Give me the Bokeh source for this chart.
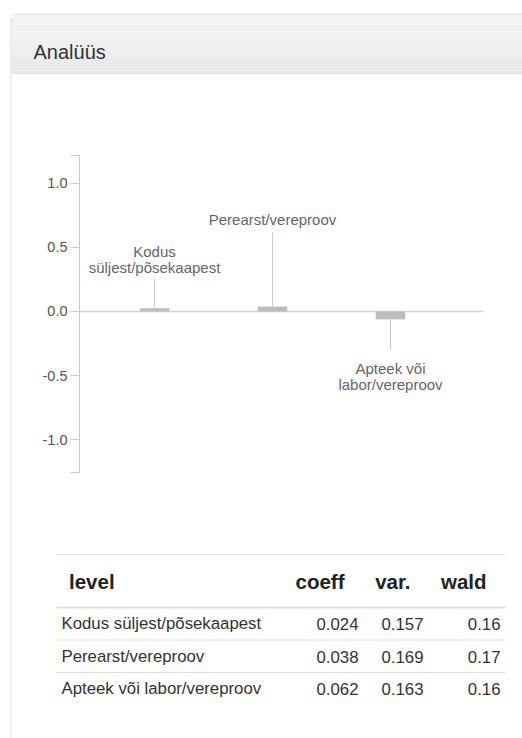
from bokeh.plotting import figure
from bokeh.layouts import column
from bokeh.models import Range1d, FixedTicker, CustomJSTickFormatter, ColumnDataSource
from bokeh.core.properties import value
from bokeh.embed import file_html
from bokeh.resources import INLINE
import numpy as np

# ---------------- data ----------------
title = "Analüüs"
levels = ["Kodus süljest/põsekaapest", "Perearst/vereproov", "Apteek või labor/vereproov"]
label_lines = [["Kodus", "süljest/põsekaapest"], ["Perearst/vereproov"], ["Apteek või", "labor/vereproov"]]
coeff = [0.024, 0.038, -0.062]          # signed values drawn as bars
coeff_txt = ["0.024", "0.038", "0.062"]  # as printed in table
var_txt = ["0.157", "0.169", "0.163"]
wald_txt = ["0.16", "0.17", "0.16"]
y_ticks = [-1.0, -0.5, 0.0, 0.5, 1.0]
table_cols = ["level", "coeff", "var."," wald"]
table_cols = ["level", "coeff", "var.", "wald"]

# ---------------- layout constants ----------------
FONT = value("Liberation Sans")
W = 522
H_TOP, H_CHART, H_TAB = 154, 319, 265
BORDER = "#dddddd"
Y_MIN, Y_MAX = -1.262, 1.222
PX0, STEP = 154.0, 118.0                     # px of first category, px per category
def xd(px):                                   # page px -> chart x units (layout helper)
    return (px - PX0) / STEP
label_stem = [0.257, 0.614, -0.295]          # leader line ends (layout)
label_offsets = [[-27, -11], [-13], [19, 35]]  # px offsets of text lines from stem end


def blank(fig):
    fig.xaxis.visible = False
    fig.yaxis.visible = False
    fig.xgrid.visible = False
    fig.ygrid.visible = False
    fig.outline_line_color = None
    fig.min_border = 0
    fig.background_fill_color = "white"
    fig.border_fill_color = "white"


# ---------------- header panel ----------------
top = figure(width=W, height=H_TOP, x_range=Range1d(0, W), y_range=Range1d(H_TOP, 0),
             output_backend="svg", toolbar_location=None)
blank(top)
n = 20
edges = np.linspace(13.5, 73, n + 1)
c0, c1 = np.array([0xf5, 0xf5, 0xf5]), np.array([0xe8, 0xe8, 0xe8])
cols = ["#%02x%02x%02x" % tuple(int(round(v)) for v in c0 + (c1 - c0) * (i + 0.5) / n) for i in range(n)]
top.quad(left=11, right=W + 5, top=edges[:-1], bottom=edges[1:], fill_color=cols, line_color=None)
top.segment(x0=[14.5, 10.5, 11], y0=[13.5, 17.5, 73], x1=[W + 5, 10.5, W + 5], y1=[13.5, H_TOP + 1, 73],
            line_color=BORDER, line_width=1)
top.arc(x=[14.5], y=[17.5], radius=4, start_angle=np.pi, end_angle=1.5 * np.pi,
        line_color=BORDER, direction="anticlock")
top.text(x=[33], y=[51.5], text=[title], text_font=FONT, text_font_size="20px",
         text_color="#333333", text_baseline="alphabetic", text_align="left")

# ---------------- chart ----------------
xs = list(range(len(levels)))
p = figure(width=W, height=H_CHART, x_range=Range1d(xd(0), xd(W)), y_range=Range1d(Y_MIN, Y_MAX),
           output_backend="svg", toolbar_location=None)
p.min_border = 0
p.xaxis.visible = False
p.xgrid.visible = False
p.ygrid.visible = False
p.outline_line_color = None
p.background_fill_color = "white"
p.border_fill_color = "white"

ya = p.yaxis[0]
ya.fixed_location = xd(79)
ya.ticker = FixedTicker(ticks=[Y_MIN + 0.004] + y_ticks + [Y_MAX - 0.004])
ya.formatter = CustomJSTickFormatter(code="return (tick > 1.1 || tick < -1.1) ? '' : tick.toFixed(1);")
ya.axis_line_color = "#cccccc"
ya.major_tick_line_color = "#cccccc"
ya.major_tick_out = 9
ya.major_tick_in = 0
ya.minor_tick_line_color = None
ya.major_label_text_font = "Liberation Sans"
ya.major_label_text_font_size = "14.5px"
ya.major_label_text_color = "#555555"
ya.major_label_standoff = 3

# panel left border and zero line
p.segment(x0=[xd(10.5)], y0=[Y_MIN - 1], x1=[xd(10.5)], y1=[Y_MAX + 1], line_color=BORDER, line_width=1)
p.segment(x0=[xd(79)], y0=[0], x1=[xd(483)], y1=[0], line_color="#d4d4d4", line_width=1.5)

src = ColumnDataSource(dict(x=xs, top=coeff, stem=label_stem))
p.segment(x0="x", y0="top", x1="x", y1="stem", source=src, line_color="#cccccc", line_width=1)
p.vbar(x="x", top="top", bottom=0, width=0.25, source=src, fill_color="#bdbdbd", line_color=None)

lx, ly, lt, lo = [], [], [], []
for i, lines in enumerate(label_lines):
    for j, t in enumerate(lines):
        lx.append(xs[i]); ly.append(label_stem[i]); lt.append(t); lo.append(label_offsets[i][j])
p.text(x=lx, y=ly, text=lt, y_offset=lo, text_font=FONT, text_font_size="15px",
       text_color="#666666", text_align="center", text_baseline="middle")

# ---------------- table ----------------
Y0 = H_TOP + H_CHART
t = figure(width=W, height=H_TAB, x_range=Range1d(0, W), y_range=Range1d(Y0 + H_TAB, Y0),
           output_backend="svg", toolbar_location=None)
blank(t)
t.segment(x0=[10.5], y0=[Y0 - 1], x1=[10.5], y1=[Y0 + H_TAB + 1], line_color=BORDER)
t.segment(x0=[56, 56, 56], y0=[554, 639.5, 672], x1=[505, 505, 505], y1=[554, 639.5, 672],
          line_color=BORDER, line_width=1)
t.segment(x0=[56], y0=[607], x1=[505], y1=[607], line_color=BORDER, line_width=2)

hx = [68.5, 344, 410, 486]
ha = ["left", "right", "right", "right"]
t.text(x=hx, y=[581] * 4, text=table_cols, text_align=ha, text_font=FONT, text_font_size="20.5px",
       text_font_style="bold", text_color="#222222", text_baseline="middle")

row_y = [623, 656, 688]
t.text(x=[61] * 3, y=row_y, text=levels, text_align="left", text_font=FONT, text_font_size="16.8px",
       text_color="#333333", text_baseline="middle")
t.text(x=[358] * 3, y=row_y, text=coeff_txt, text_align="right", text_font=FONT, text_font_size="16.8px",
       text_color="#333333", text_baseline="middle")
t.text(x=[423] * 3, y=row_y, text=var_txt, text_align="right", text_font=FONT, text_font_size="16.8px",
       text_color="#333333", text_baseline="middle")
t.text(x=[500] * 3, y=row_y, text=wald_txt, text_align="right", text_font=FONT, text_font_size="16.8px",
       text_color="#333333", text_baseline="middle")

layout = column(top, p, t, spacing=0)
open("out.html", "w").write(file_html(layout, INLINE))
